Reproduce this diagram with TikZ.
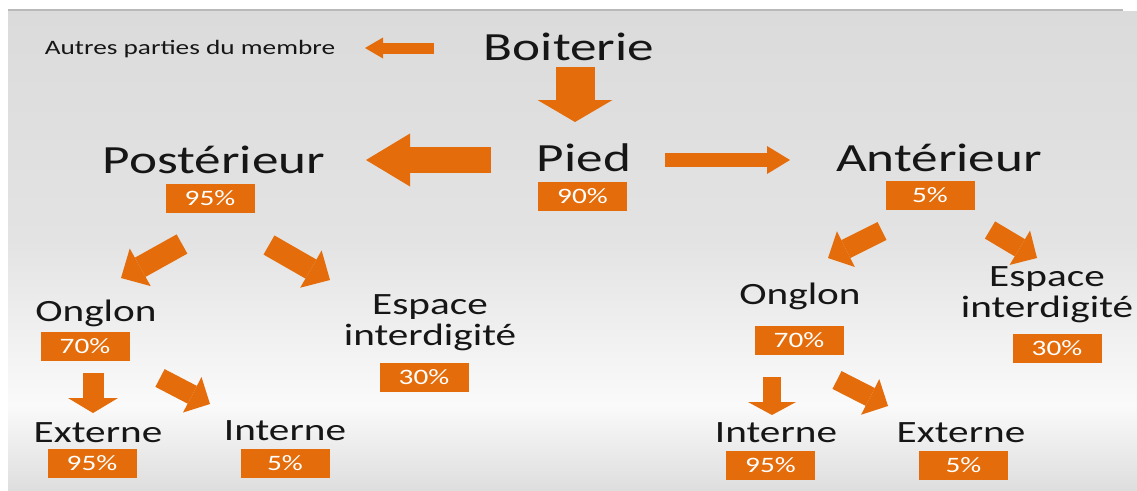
\documentclass[tikz,border=0pt]{standalone}
\usepackage{fontspec}
\setmainfont{Carlito}[FakeStretch=1.33]
\usepackage{tikz}
\usetikzlibrary{arrows.meta}
\usetikzlibrary{positioning}
\usepackage{xcolor}
\definecolor{orangePP}{HTML}{E46C0A}
\definecolor{texte}{HTML}{161616}
\definecolor{fondA}{HTML}{DBDBDB}
\definecolor{fondB}{HTML}{E3E3E3}
\definecolor{fondC}{HTML}{FAFAFA}
\definecolor{fondD}{HTML}{DEDEDE}

\begin{document}
\begin{tikzpicture}[x=1pt,y=-1pt]
		\tikzstyle{titre} = [draw=none,fill=none,anchor=base,inner sep=0pt,text=texte,font=\fontsize{40}{48}\selectfont]
		\tikzstyle{sous} = [draw=none,fill=none,anchor=base,inner sep=0pt,text=texte,align=center,font=\fontsize{31}{31}\selectfont]
		\tikzstyle{petit} = [draw=none,fill=none,anchor=base,inner sep=0pt,text=texte,font=\fontsize{20.5}{24}\selectfont]
		\tikzstyle{taux} = [rectangle,fill=orangePP,text=white,minimum width=89pt,minimum height=29pt,inner sep=0pt,font=\fontsize{22}{24}\selectfont]
		\tikzset{fleche/.style n args={3}{draw=orangePP,line width=#1,-{Triangle[width=#2,length=#3,line width=0pt]}}}

		\useasboundingbox (0,0) rectangle (1137,490);
		\fill[white] (0,0) rectangle (1137,490);
		\shade[top color=fondA,bottom color=fondB] (8,11) rectangle (1137,240);
		\shade[top color=fondB,bottom color=fondC] (8,239.5) rectangle (1137,405);
		\shade[top color=fondC,bottom color=fondD] (8,404.5) rectangle (1137,490);
		\draw[gray!55,line width=2pt] (8,10) -- (1123,10);

		\node[titre] (b0) at (569,60) {Boiterie};
		\node[petit] (ap) at (190,54) {Autres parties du membre};
		\node[titre] (p0) at (584,171) {Pied};
		\node[taux] (t0) at (582.5,196.5) {90\%};
		\node[titre] (po) at (214,173) {Postérieur};
		\node[taux] (t1) at (210,198) {95\%};
		\node[titre] (an) at (939,171) {Antérieur};
		\node[taux] (t2) at (930,195) {5\%};

		\node[sous] (o1) at (96,321) {Onglon};
		\node[taux] (t3) at (85,346) {70\%};
		\node[sous] (e1) at (430,345) {Espace\\interdigité};
		\node[taux] (t4) at (424,377) {30\%};
		\node[sous] (x1) at (98,442) {Externe};
		\node[taux] (t5) at (92,463) {95\%};
		\node[sous] (i1) at (285,440) {Interne};
		\node[taux] (t6) at (285,463) {5\%};

		\node[sous] (o2) at (800,304) {Onglon};
		\node[taux] (t7) at (799,340) {70\%};
		\node[sous] (e2) at (1047,317) {Espace\\interdigité};
		\node[taux] (t8) at (1057,348.5) {30\%};
		\node[sous] (i2) at (776,442) {Interne};
		\node[taux] (t9) at (770.5,465.5) {95\%};
		\node[sous] (x2) at (961,442) {Externe};
		\node[taux] (t10) at (963.5,465.5) {5\%};

		\coordinate (fa1) at (434,48);  \coordinate (fa2) at (365,48);
		\coordinate (fb1) at (575,67);  \coordinate (fb2) at (575,122);
		\coordinate (fc1) at (491,160); \coordinate (fc2) at (366,160);
		\coordinate (fd1) at (665,160); \coordinate (fd2) at (790,160);
		\coordinate (fe1) at (182,244); \coordinate (fe2) at (121,278);
		\coordinate (ff1) at (269,245); \coordinate (ff2) at (330,280);
		\coordinate (fg1) at (882,231); \coordinate (fg2) at (828,258);
		\coordinate (fh1) at (990,230); \coordinate (fh2) at (1037,258);
		\coordinate (fi1) at (93,373);  \coordinate (fi2) at (93,413);
		\coordinate (fj1) at (160,378); \coordinate (fj2) at (210,404);
		\coordinate (fk1) at (772,377); \coordinate (fk2) at (772,415);
		\coordinate (fl1) at (837,380); \coordinate (fl2) at (888,406);

		\draw [fleche={11pt}{21pt}{18pt}] (fa1) -- (fa2);
		\draw [fleche={39pt}{75pt}{22pt}] (fb1) -- (fb2);
		\draw [fleche={26pt}{53pt}{44pt}] (fc1) -- (fc2);
		\draw [fleche={14pt}{28pt}{23pt}] (fd1) -- (fd2);

		\draw [fleche={22pt}{43pt}{22pt}] (fe1) -- (fe2);
		\draw [fleche={22pt}{43pt}{22pt}] (ff1) -- (ff2);
		\draw [fleche={20pt}{40pt}{20pt}] (fg1) -- (fg2);
		\draw [fleche={20pt}{40pt}{20pt}] (fh1) -- (fh2);

		\draw [fleche={21pt}{50pt}{15pt}] (fi1) -- (fi2);
		\draw [fleche={20pt}{40pt}{20pt}] (fj1) -- (fj2);
		\draw [fleche={18pt}{48pt}{13pt}] (fk1) -- (fk2);
		\draw [fleche={20pt}{40pt}{20pt}] (fl1) -- (fl2);

\end{tikzpicture}
\end{document}
